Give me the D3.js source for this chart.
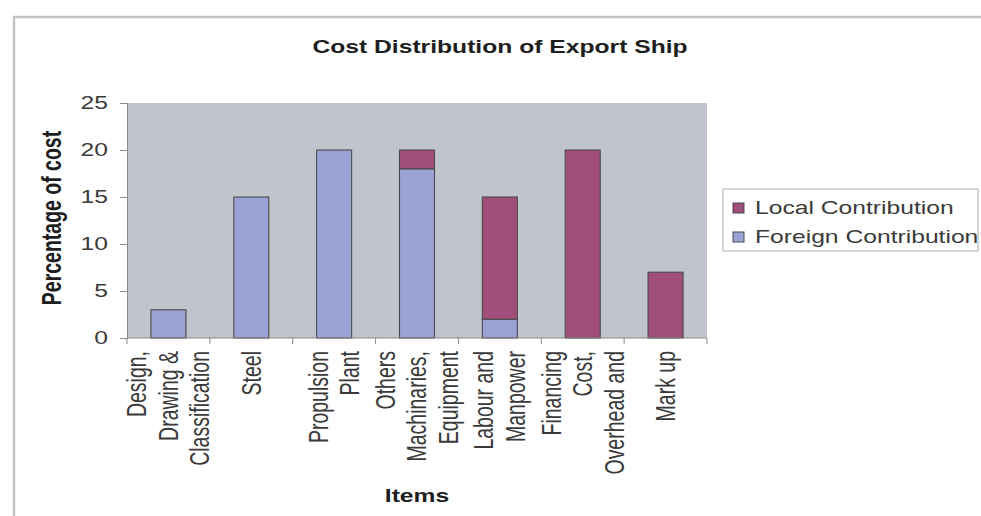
<!DOCTYPE html>
<html><head><meta charset="utf-8">
<script src="https://cdn.jsdelivr.net/npm/d3@7"></script>
<style>
html,body{margin:0;padding:0;background:#fff;}
svg{display:block;font-family:"Liberation Sans",Arial,sans-serif;}
</style></head>
<body>
<svg id="c" width="981" height="516"></svg>
<script>
const categories = [
  ["Design,", "Drawing &", "Classification"],
  ["Steel"],
  ["Propulsion", "Plant"],
  ["Others", "Machinaries,", "Equipment"],
  ["Labour and", "Manpower"],
  ["Financing", "Cost,", "Overhead and"],
  ["Mark up"]
];
const foreignValues = [3, 15, 20, 18, 2, 0, 0];
const localValues   = [0, 0, 0, 2, 13, 20, 7];
const yTicks = [0, 5, 10, 15, 20, 25];
const seriesNames = ["Local Contribution", "Foreign Contribution"];
const titleText = "Cost Distribution of Export Ship";
const xTitle = "Items";
const yTitle = "Percentage of cost";

const colors = {local: "#A04E7A", foreign: "#9AA2D6"};
const SX = 1.37; // horizontal stretch of the picture

const svg = d3.select("#c");
// outer frame
svg.append("path").attr("d", "M14,520 L14,17 L990,17")
  .attr("fill", "none").attr("stroke", "#c4c4c4").attr("stroke-width", 2.5);

const plot = {l: 127, r: 707, t: 103, b: 338};
const idx = categories.map((d, i) => i);
const x = d3.scaleBand().domain(idx).range([plot.l, plot.r]).paddingInner(0).paddingOuter(0);
const y = d3.scaleLinear().domain([0, 25]).range([plot.b, plot.t]);

svg.append("rect").attr("x", plot.l).attr("y", plot.t)
  .attr("width", plot.r - plot.l).attr("height", plot.b - plot.t)
  .attr("fill", "#C0C4CC");

// stacked data
const rows = idx.map(i => ({i, foreign: foreignValues[i], local: localValues[i]}));
const stack = d3.stack().keys(["foreign", "local"])(rows);
const barW = 35;
stack.forEach(s => {
  svg.append("g").selectAll("rect").data(s.filter(d => d[1] - d[0] > 0)).join("rect")
    .attr("x", d => x(d.data.i) + x.bandwidth() / 2 - barW / 2)
    .attr("width", barW)
    .attr("y", d => y(d[1]))
    .attr("height", d => y(d[0]) - y(d[1]))
    .attr("fill", colors[s.key])
    .attr("stroke", "#4a4a4a").attr("stroke-width", 1.1);
});

// y axis
const yAxis = svg.append("g").attr("transform", `translate(${plot.l},0)`)
  .call(d3.axisLeft(y).tickValues(yTicks).tickSize(7).tickFormat(""));
yAxis.select(".domain").attr("stroke", "#8a8a8a");
yAxis.selectAll(".tick line").attr("stroke", "#8a8a8a");
svg.append("g").selectAll("text").data(yTicks).join("text")
  .attr("transform", d => `translate(108,${y(d)}) scale(${SX},1)`)
  .attr("dy", "0.36em").attr("text-anchor", "end")
  .attr("font-size", 18).attr("fill", "#3a3a3a").text(d => d);

// x axis with ticks at band boundaries
const xb = svg.append("g").attr("transform", `translate(0,${plot.b})`);
xb.append("line").attr("x1", plot.l).attr("x2", plot.r).attr("stroke", "#8a8a8a");
const bounds = idx.map(i => x(i)).concat([x(idx[idx.length - 1]) + x.bandwidth()]);
xb.selectAll("line.t").data(bounds).join("line").attr("class", "t")
  .attr("x1", d => d).attr("x2", d => d).attr("y1", 0).attr("y2", 6).attr("stroke", "#8a8a8a");

// rotated category labels
const lineGap = 31.5;
categories.forEach((lines, i) => {
  const cx = x(i) + x.bandwidth() / 2;
  lines.forEach((t, j) => {
    const lx = cx + (j - (lines.length - 1) / 2) * lineGap;
    svg.append("text")
      .attr("transform", `translate(${lx},351) scale(${SX},1) rotate(-90)`)
      .attr("text-anchor", "end").attr("dy", "0.35em")
      .attr("font-size", 19.5).attr("fill", "#3a3a3a").text(t);
  });
});

// titles
svg.append("text").attr("transform", `translate(500,53) scale(${SX},1)`)
  .attr("text-anchor", "middle").attr("font-weight", "bold").attr("font-size", 18)
  .attr("fill", "#1e1e1e").text(titleText);
svg.append("text").attr("transform", `translate(417,502) scale(${SX},1)`)
  .attr("text-anchor", "middle").attr("font-weight", "bold").attr("font-size", 18)
  .attr("fill", "#1e1e1e").text(xTitle);
svg.append("text").attr("transform", `translate(52,218) scale(${SX},1) rotate(-90)`)
  .attr("text-anchor", "middle").attr("dy", "0.35em").attr("font-weight", "bold").attr("font-size", 19.5)
  .attr("fill", "#1e1e1e").text(yTitle);

// legend
const lg = svg.append("g");
lg.append("rect").attr("x", 723).attr("y", 189).attr("width", 255).attr("height", 62)
  .attr("fill", "#fff").attr("stroke", "#b8b8b8").attr("stroke-width", 1.2);
const legendItems = [{name: seriesNames[0], c: colors.local}, {name: seriesNames[1], c: colors.foreign}];
legendItems.forEach((d, i) => {
  const yy = 208 + i * 29;
  lg.append("rect").attr("x", 733).attr("y", yy - 5).attr("width", 11).attr("height", 10)
    .attr("fill", d.c).attr("stroke", "#4a4a4a").attr("stroke-width", 1);
  lg.append("text").attr("transform", `translate(755,${yy}) scale(${SX},1)`)
    .attr("dy", "0.36em").attr("font-size", 18).attr("fill", "#3a3a3a").text(d.name);
});
</script>
</body></html>
